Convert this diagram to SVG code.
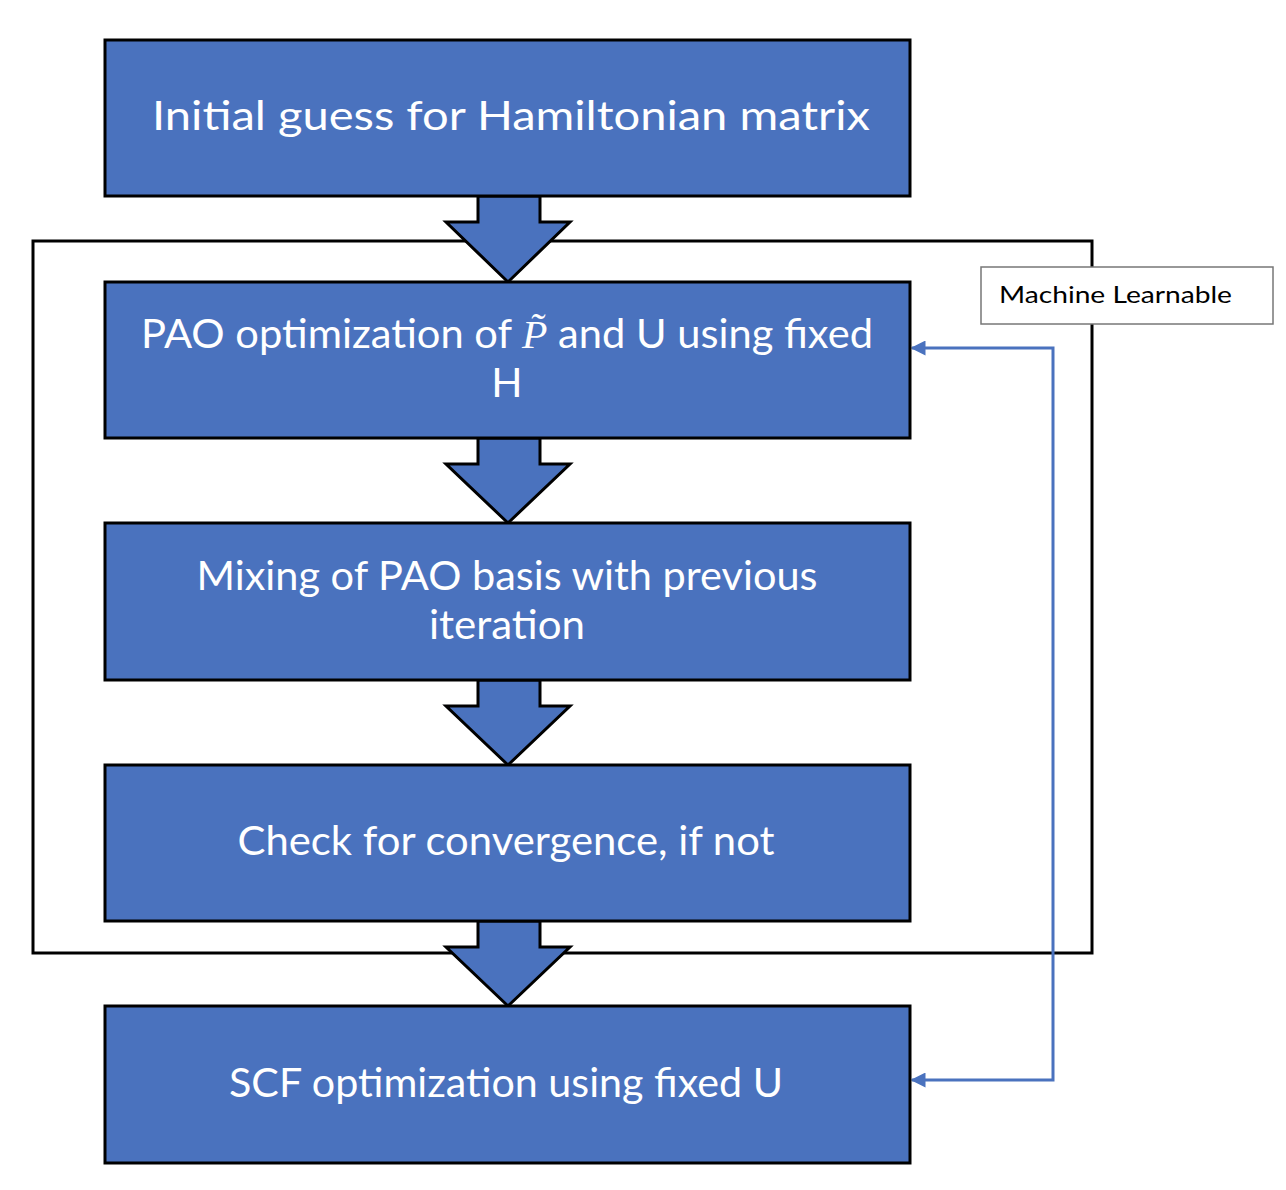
<svg xmlns="http://www.w3.org/2000/svg" width="1286" height="1190" viewBox="0 0 1286 1190">
<style>
.box{fill:#4A72BE;stroke:#000;stroke-width:3}
.arr{fill:#4A72BE;stroke:#000;stroke-width:3;stroke-linejoin:miter}
.t{font-family:Lato,"Open Sans","Liberation Sans",sans-serif;font-size:41px;fill:#fff;text-anchor:middle}
.lbl{font-family:Lato,"Open Sans","Liberation Sans",sans-serif;font-size:23px;fill:#000}
.conn{fill:none;stroke:#4A72BE;stroke-width:3}
</style>
<defs>
<marker id="ah" viewBox="0 0 10 10" refX="9" refY="5" markerWidth="5" markerHeight="5" orient="auto-start-reverse" markerUnits="strokeWidth">
<path d="M0,0 L10,5 L0,10 Z" fill="#4A72BE"/>
</marker>
</defs>
<rect width="1286" height="1190" fill="#fff"/>
<g id="frame"><rect x="33" y="241" width="1059" height="712" fill="none" stroke="#000" stroke-width="3"/></g>
<g id="connectors">
<path class="arr" d="M478,196 L540,196 L540,222 L570,222 L508,282 L446,222 L478,222 Z"/>
<path class="arr" d="M478,438 L540,438 L540,464 L570,464 L508,523 L446,464 L478,464 Z"/>
<path class="arr" d="M478,680 L540,680 L540,706 L570,706 L508,765 L446,706 L478,706 Z"/>
<path class="arr" d="M478,921 L540,921 L540,947 L570,947 L508,1006 L446,947 L478,947 Z"/>
<path class="conn" d="M912,348 L1053,348 L1053,1080 L912,1080" marker-start="url(#ah)" marker-end="url(#ah)"/>
</g>
<g id="n1"><rect class="box" x="105" y="40" width="805" height="156"/>
<text class="t" x="511" y="130" textLength="718" lengthAdjust="spacingAndGlyphs">Initial guess for Hamiltonian matrix</text></g>
<g id="n2"><rect class="box" x="105" y="282" width="805" height="156"/>
<text class="t" x="507" y="348" textLength="732" lengthAdjust="spacingAndGlyphs">PAO optimization of <tspan font-family="Liberation Serif,serif" font-style="italic">P̃</tspan> and U using fixed</text>
<text class="t" x="507" y="397">H</text></g>
<g id="n3"><rect class="box" x="105" y="523" width="805" height="157"/>
<text class="t" x="507" y="590" textLength="621" lengthAdjust="spacingAndGlyphs">Mixing of PAO basis with previous</text>
<text class="t" x="507" y="639" textLength="156" lengthAdjust="spacingAndGlyphs">iteration</text></g>
<g id="n4"><rect class="box" x="105" y="765" width="805" height="156"/>
<text class="t" x="506" y="855" textLength="537" lengthAdjust="spacingAndGlyphs">Check for convergence, if not</text></g>
<g id="n5"><rect class="box" x="105" y="1006" width="805" height="157"/>
<text class="t" x="506" y="1097" textLength="554" lengthAdjust="spacingAndGlyphs">SCF optimization using fixed U</text></g>
<g id="label"><rect x="981" y="267" width="292" height="57" fill="#fff" stroke="#777" stroke-width="1.5"/>
<text class="lbl" x="999" y="303" textLength="233" lengthAdjust="spacingAndGlyphs">Machine Learnable</text></g>
</svg>
